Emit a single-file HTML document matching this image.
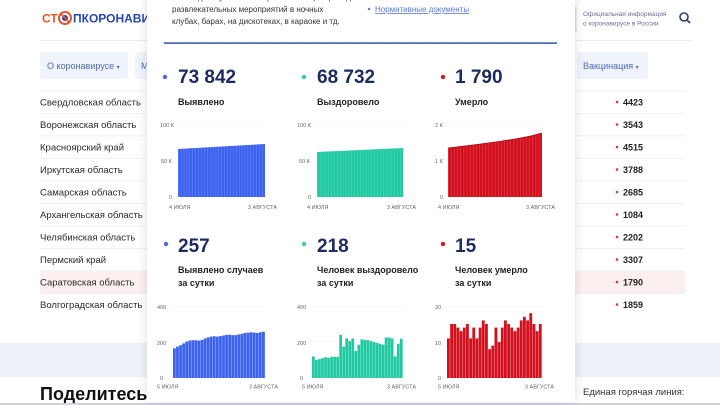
<!DOCTYPE html>
<html lang="ru">
<head>
<meta charset="utf-8">
<style>
  html,body{margin:0;padding:0;background:#fff;}
  body{width:720px;height:405px;overflow:hidden;position:relative;font-family:"Liberation Sans","Noto Sans CJK SC",sans-serif;}
  svg{position:absolute;left:0;top:0;}
  #modal{position:absolute;left:147px;top:-6px;width:428px;height:408px;background:#fff;box-shadow:0 0 10px rgba(0,0,0,0.13);z-index:1;}
  #bg{z-index:0;}
  #fg{z-index:2;}
  text{font-family:"Liberation Sans","Noto Sans CJK SC",sans-serif;}
</style>
</head>
<body>
<svg id="bg" width="720" height="405" viewBox="0 0 720 405" xmlns="http://www.w3.org/2000/svg">
  <rect x="0" y="0" width="720" height="405" fill="#ffffff"/>
  <!-- logo -->
  <text x="42" y="22.5" font-size="12" font-weight="bold" fill="#e4572e">СТ</text>
  <circle cx="65" cy="18" r="6" fill="#fff" stroke="#e4572e" stroke-width="2"/>
  <circle cx="65" cy="18" r="3" fill="#2747b0"/>
  <line x1="60.5" y1="13.5" x2="69.5" y2="22.5" stroke="#e4572e" stroke-width="1.6"/>
  <text x="73" y="22.5" font-size="12" font-weight="bold" fill="#2747b0">ПКОРОНАВИ</text>
  <!-- top right -->
  <rect x="575" y="7" width="1.5" height="25" fill="#dcdde2"/>
  <text x="583" y="16" font-size="6.5" fill="#6b7390">Официальная информация</text>
  <text x="583" y="25.5" font-size="6.5" fill="#6b7390">о коронавирусе в России</text>
  <circle cx="684" cy="17" r="4" fill="none" stroke="#2c3e6b" stroke-width="1.6"/>
  <line x1="687" y1="20" x2="690" y2="23" stroke="#2c3e6b" stroke-width="1.8"/>
  <!-- top separator -->
  <rect x="40" y="40" width="652" height="1" fill="#ececec"/>
  <!-- nav -->
  <rect x="40" y="52" width="88" height="27" rx="3" fill="#eef3fc"/>
  <text x="47" y="69" font-size="9" fill="#5069b5">О коронавирусе <tspan font-size="6">▾</tspan></text>
  <rect x="135" y="52" width="60" height="27" rx="3" fill="#eef3fc"/>
  <text x="141" y="69" font-size="9" fill="#5069b5">М</text>
  <rect x="577" y="52" width="71" height="27" rx="3" fill="#eef3fc"/>
  <text x="583" y="69" font-size="9" fill="#5069b5">Вакцинация <tspan font-size="6">▾</tspan></text>
  <!-- highlight row -->
  <rect x="40" y="271.5" width="645" height="22" fill="#fcefef"/>
  <!-- row separators -->
  <g fill="#ededed">
    <rect x="40" y="90.5" width="645" height="0.8"/>
    <rect x="40" y="113" width="645" height="0.8"/>
    <rect x="40" y="135.5" width="645" height="0.8"/>
    <rect x="40" y="158" width="645" height="0.8"/>
    <rect x="40" y="180.5" width="645" height="0.8"/>
    <rect x="40" y="203" width="645" height="0.8"/>
    <rect x="40" y="225.5" width="645" height="0.8"/>
    <rect x="40" y="248" width="645" height="0.8"/>
    <rect x="40" y="270.5" width="645" height="0.8"/>
    <rect x="40" y="293" width="645" height="0.8"/>
  </g>
  <g font-size="9.5" fill="#2a2a2a">
    <text x="40" y="105.3">Свердловская область</text>
    <text x="40" y="127.8">Воронежская область</text>
    <text x="40" y="150.3">Красноярский край</text>
    <text x="40" y="172.8">Иркутская область</text>
    <text x="40" y="195.3">Самарская область</text>
    <text x="40" y="217.8">Архангельская область</text>
    <text x="40" y="240.3">Челябинская область</text>
    <text x="40" y="262.8">Пермский край</text>
    <text x="40" y="285.3">Саратовская область</text>
    <text x="40" y="307.8">Волгоградская область</text>
  </g>
  <g fill="#d33a45">
    <circle cx="617" cy="102" r="1.3"/>
    <circle cx="617" cy="124.5" r="1.3"/>
    <circle cx="617" cy="147" r="1.3"/>
    <circle cx="617" cy="169.5" r="1.3"/>
    <circle cx="617" cy="192" r="1.3"/>
    <circle cx="617" cy="214.5" r="1.3"/>
    <circle cx="617" cy="237" r="1.3"/>
    <circle cx="617" cy="259.5" r="1.3"/>
    <circle cx="617" cy="282" r="1.3"/>
    <circle cx="617" cy="304.5" r="1.3"/>
  </g>
  <g font-size="9" font-weight="bold" fill="#222">
    <text x="623" y="105.3">4423</text>
    <text x="623" y="127.8">3543</text>
    <text x="623" y="150.3">4515</text>
    <text x="623" y="172.8">3788</text>
    <text x="623" y="195.3">2685</text>
    <text x="623" y="217.8">1084</text>
    <text x="623" y="240.3">2202</text>
    <text x="623" y="262.8">3307</text>
    <text x="623" y="285.3">1790</text>
    <text x="623" y="307.8">1859</text>
  </g>
  <!-- band -->
  <rect x="0" y="343" width="720" height="34" fill="#edf1f9"/>
  <text x="40" y="400" font-size="18" font-weight="bold" fill="#111">Поделитесь</text>
  <text x="583" y="395" font-size="9.5" fill="#333">Единая горячая линия:</text>
  <rect x="0" y="403" width="720" height="2" fill="#cfd3da"/>
</svg>

<div id="modal"></div>

<svg id="fg" width="720" height="405" viewBox="0 0 720 405" xmlns="http://www.w3.org/2000/svg">
  <defs>
    <pattern id="pb" patternUnits="userSpaceOnUse" x="178" y="0" width="2.9" height="405">
      <rect x="0" y="0" width="0.4" height="405" fill="#ffffff" fill-opacity="0.3"/>
    </pattern>
    <pattern id="pg" patternUnits="userSpaceOnUse" x="317" y="0" width="2.87" height="405">
      <rect x="0" y="0" width="0.4" height="405" fill="#ffffff" fill-opacity="0.3"/>
    </pattern>
    <pattern id="pr" patternUnits="userSpaceOnUse" x="448" y="0" width="3.13" height="405">
      <rect x="0" y="0" width="0.4" height="405" fill="#ffffff" fill-opacity="0.3"/>
    </pattern>
  </defs>

  <!-- top text -->
  <text x="172" y="0" font-size="8" fill="#333">необходимо учитывать ограничения при проведении</text>
  <text x="172" y="12" font-size="8" fill="#333">развлекательных мероприятий в ночных</text>
  <text x="172" y="24" font-size="8" fill="#333">клубах, барах, на дискотеках, в караоке и тд.</text>
  <circle cx="369" cy="9" r="1.2" fill="#5a78d0"/>
  <text x="375" y="12" font-size="8" fill="#5a78d0" text-decoration="underline">Нормативные документы</text>
  <rect x="164" y="42.3" width="393" height="1.6" fill="#3d5cb8"/>

  <!-- row 1 numbers -->
  <circle cx="165" cy="77" r="2.2" fill="#4d6bd6"/>
  <text x="178" y="83" font-size="19" font-weight="bold" fill="#1b2b5e">73 842</text>
  <circle cx="304" cy="77" r="2.2" fill="#3cc9a6"/>
  <text x="317" y="83" font-size="19" font-weight="bold" fill="#1b2b5e">68 732</text>
  <circle cx="443" cy="77" r="2.2" fill="#d01a28"/>
  <text x="455" y="83" font-size="19" font-weight="bold" fill="#1b2b5e">1 790</text>
  <g font-size="9" font-weight="bold" fill="#222">
    <text x="178" y="105">Выявлено</text>
    <text x="317" y="105">Выздоровело</text>
    <text x="455" y="105">Умерло</text>
  </g>

  <!-- row 1 charts -->
  <g stroke="#f0f0f0" stroke-width="0.6">
    <line x1="178" y1="125" x2="266" y2="125"/>
    <line x1="178" y1="161" x2="266" y2="161"/>
    <line x1="317" y1="125" x2="404" y2="125"/>
    <line x1="317" y1="161" x2="404" y2="161"/>
    <line x1="448" y1="125" x2="543" y2="125"/>
    <line x1="448" y1="161" x2="543" y2="161"/>
  </g>
  <polygon points="178,197 178,149 265,144 265,197" fill="#3c62ef"/>
  <polygon points="178,197 178,149 265,144 265,197" fill="url(#pb)"/>
  <polygon points="317,197 317,152 403,148 403,197" fill="#20c9a2"/>
  <polygon points="317,197 317,152 403,148 403,197" fill="url(#pg)"/>
  <polygon points="448,197 448,148 475,144.8 500,141.4 520,138.2 532,135.8 542,133 542,197" fill="#d3101d"/>
  <polygon points="448,197 448,148 475,144.8 500,141.4 520,138.2 532,135.8 542,133 542,197" fill="url(#pr)"/>
  <polyline points="448,148 475,144.8 500,141.4 520,138.2 532,135.8 542,133" fill="none" stroke="#a80a14" stroke-width="0.8"/>

  <g font-size="5.5" fill="#666">
    <text x="160" y="127">100 К</text>
    <text x="161" y="163">50 К</text>
    <text x="169" y="199">0</text>
    <text x="169" y="209">4 ИЮЛЯ</text>
    <text x="277" y="209" text-anchor="end">3 АВГУСТА</text>

    <text x="297" y="127">100 К</text>
    <text x="299" y="163">50 К</text>
    <text x="308" y="199">0</text>
    <text x="307" y="209">4 ИЮЛЯ</text>
    <text x="416" y="209" text-anchor="end">3 АВГУСТА</text>

    <text x="435" y="127">2 К</text>
    <text x="435" y="163">1 К</text>
    <text x="440" y="199">0</text>
    <text x="438" y="209">4 ИЮЛЯ</text>
    <text x="555" y="209" text-anchor="end">3 АВГУСТА</text>
  </g>

  <!-- row 2 numbers -->
  <circle cx="166" cy="244" r="2.2" fill="#4d6bd6"/>
  <text x="178" y="252" font-size="19" font-weight="bold" fill="#1b2b5e">257</text>
  <circle cx="304" cy="244" r="2.2" fill="#3cc9a6"/>
  <text x="317" y="252" font-size="19" font-weight="bold" fill="#1b2b5e">218</text>
  <circle cx="443" cy="244" r="2.2" fill="#d01a28"/>
  <text x="455" y="252" font-size="19" font-weight="bold" fill="#1b2b5e">15</text>
  <g font-size="9" font-weight="bold" fill="#222">
    <text x="178" y="273">Выявлено случаев</text>
    <text x="178" y="286">за сутки</text>
    <text x="317" y="273">Человек выздоровело</text>
    <text x="317" y="286">за сутки</text>
    <text x="455" y="273">Человек умерло</text>
    <text x="455" y="286">за сутки</text>
  </g>

  <!-- row 2 grid -->
  <g stroke="#f0f0f0" stroke-width="0.6">
    <line x1="173" y1="306" x2="266" y2="306"/>
    <line x1="173" y1="342" x2="266" y2="342"/>
    <line x1="312" y1="306" x2="404" y2="306"/>
    <line x1="312" y1="342" x2="404" y2="342"/>
    <line x1="447" y1="306" x2="543" y2="306"/>
    <line x1="447" y1="342" x2="543" y2="342"/>
  </g>

  <!-- blue daily bars -->
  <g fill="#3c62ef">
    <rect x="173.00" y="348.30" width="2.8" height="29.70"/>
    <rect x="176.07" y="346.50" width="2.8" height="31.50"/>
    <rect x="179.14" y="345.24" width="2.8" height="32.76"/>
    <rect x="182.21" y="343.44" width="2.8" height="34.56"/>
    <rect x="185.28" y="341.46" width="2.8" height="36.54"/>
    <rect x="188.35" y="340.56" width="2.8" height="37.44"/>
    <rect x="191.42" y="340.20" width="2.8" height="37.80"/>
    <rect x="194.49" y="340.20" width="2.8" height="37.80"/>
    <rect x="197.56" y="340.56" width="2.8" height="37.44"/>
    <rect x="200.63" y="339.84" width="2.8" height="38.16"/>
    <rect x="203.70" y="338.40" width="2.8" height="39.60"/>
    <rect x="206.77" y="337.32" width="2.8" height="40.68"/>
    <rect x="209.84" y="336.60" width="2.8" height="41.40"/>
    <rect x="212.91" y="336.24" width="2.8" height="41.76"/>
    <rect x="215.98" y="336.60" width="2.8" height="41.40"/>
    <rect x="219.05" y="336.06" width="2.8" height="41.94"/>
    <rect x="222.12" y="335.52" width="2.8" height="42.48"/>
    <rect x="225.19" y="334.80" width="2.8" height="43.20"/>
    <rect x="228.26" y="334.80" width="2.8" height="43.20"/>
    <rect x="231.33" y="335.16" width="2.8" height="42.84"/>
    <rect x="234.40" y="335.16" width="2.8" height="42.84"/>
    <rect x="237.47" y="334.44" width="2.8" height="43.56"/>
    <rect x="240.54" y="333.72" width="2.8" height="44.28"/>
    <rect x="243.61" y="333.00" width="2.8" height="45.00"/>
    <rect x="246.68" y="332.64" width="2.8" height="45.36"/>
    <rect x="249.75" y="332.28" width="2.8" height="45.72"/>
    <rect x="252.82" y="332.64" width="2.8" height="45.36"/>
    <rect x="255.89" y="333.00" width="2.8" height="45.00"/>
    <rect x="258.96" y="332.28" width="2.8" height="45.72"/>
    <rect x="262.03" y="331.74" width="2.8" height="46.26"/>
  </g>

  <!-- green daily bars -->
  <g fill="#20c9a2">
    <rect x="312.00" y="356.40" width="2.75" height="21.60"/>
    <rect x="315.03" y="360.00" width="2.75" height="18.00"/>
    <rect x="318.06" y="359.10" width="2.75" height="18.90"/>
    <rect x="321.09" y="358.20" width="2.75" height="19.80"/>
    <rect x="324.12" y="357.30" width="2.75" height="20.70"/>
    <rect x="327.15" y="357.84" width="2.75" height="20.16"/>
    <rect x="330.18" y="356.76" width="2.75" height="21.24"/>
    <rect x="333.21" y="356.76" width="2.75" height="21.24"/>
    <rect x="336.24" y="356.76" width="2.75" height="21.24"/>
    <rect x="339.27" y="334.80" width="2.75" height="43.20"/>
    <rect x="342.30" y="346.50" width="2.75" height="31.50"/>
    <rect x="345.33" y="338.40" width="2.75" height="39.60"/>
    <rect x="348.36" y="341.10" width="2.75" height="36.90"/>
    <rect x="351.39" y="338.40" width="2.75" height="39.60"/>
    <rect x="354.42" y="351.00" width="2.75" height="27.00"/>
    <rect x="357.45" y="344.70" width="2.75" height="33.30"/>
    <rect x="360.48" y="339.30" width="2.75" height="38.70"/>
    <rect x="363.51" y="339.84" width="2.75" height="38.16"/>
    <rect x="366.54" y="340.20" width="2.75" height="37.80"/>
    <rect x="369.57" y="341.10" width="2.75" height="36.90"/>
    <rect x="372.60" y="342.00" width="2.75" height="36.00"/>
    <rect x="375.63" y="342.90" width="2.75" height="35.10"/>
    <rect x="378.66" y="343.80" width="2.75" height="34.20"/>
    <rect x="381.69" y="344.70" width="2.75" height="33.30"/>
    <rect x="384.72" y="337.50" width="2.75" height="40.50"/>
    <rect x="387.75" y="337.50" width="2.75" height="40.50"/>
    <rect x="390.78" y="338.40" width="2.75" height="39.60"/>
    <rect x="393.81" y="356.40" width="2.75" height="21.60"/>
    <rect x="396.84" y="343.80" width="2.75" height="34.20"/>
    <rect x="399.87" y="338.76" width="2.75" height="39.24"/>
  </g>

  <!-- red daily bars -->
  <g fill="#d3101d">
    <rect x="447.00" y="338.4" width="2.85" height="39.6"/>
    <rect x="450.17" y="324.0" width="2.85" height="54.0"/>
    <rect x="453.33" y="324.0" width="2.85" height="54.0"/>
    <rect x="456.50" y="327.6" width="2.85" height="50.4"/>
    <rect x="459.67" y="331.2" width="2.85" height="46.8"/>
    <rect x="462.83" y="327.6" width="2.85" height="50.4"/>
    <rect x="466.00" y="324.0" width="2.85" height="54.0"/>
    <rect x="469.17" y="338.4" width="2.85" height="39.6"/>
    <rect x="472.33" y="327.6" width="2.85" height="50.4"/>
    <rect x="475.50" y="338.4" width="2.85" height="39.6"/>
    <rect x="478.67" y="327.6" width="2.85" height="50.4"/>
    <rect x="481.83" y="320.4" width="2.85" height="57.6"/>
    <rect x="485.00" y="324.0" width="2.85" height="54.0"/>
    <rect x="488.17" y="349.2" width="2.85" height="28.8"/>
    <rect x="491.33" y="345.6" width="2.85" height="32.4"/>
    <rect x="494.50" y="327.6" width="2.85" height="50.4"/>
    <rect x="497.67" y="342.0" width="2.85" height="36.0"/>
    <rect x="500.83" y="327.6" width="2.85" height="50.4"/>
    <rect x="504.00" y="320.4" width="2.85" height="57.6"/>
    <rect x="507.17" y="324.0" width="2.85" height="54.0"/>
    <rect x="510.33" y="327.6" width="2.85" height="50.4"/>
    <rect x="513.50" y="331.2" width="2.85" height="46.8"/>
    <rect x="516.67" y="327.6" width="2.85" height="50.4"/>
    <rect x="519.83" y="320.4" width="2.85" height="57.6"/>
    <rect x="523.00" y="316.8" width="2.85" height="61.2"/>
    <rect x="526.17" y="320.4" width="2.85" height="57.6"/>
    <rect x="529.33" y="313.2" width="2.85" height="64.8"/>
    <rect x="532.50" y="324.0" width="2.85" height="54.0"/>
    <rect x="535.67" y="331.2" width="2.85" height="46.8"/>
    <rect x="538.83" y="324.0" width="2.85" height="54.0"/>
  </g>

  <g font-size="5.5" fill="#666">
    <text x="157" y="309">400</text>
    <text x="157" y="345">200</text>
    <text x="160" y="380">0</text>
    <text x="157" y="388.5">5 ИЮЛЯ</text>
    <text x="278" y="388.5" text-anchor="end">3 АВГУСТА</text>

    <text x="297" y="309">400</text>
    <text x="297" y="345">200</text>
    <text x="300" y="380">0</text>
    <text x="302" y="388.5">5 ИЮЛЯ</text>
    <text x="416" y="388.5" text-anchor="end">3 АВГУСТА</text>

    <text x="435" y="309">20</text>
    <text x="435" y="345">10</text>
    <text x="438" y="380">0</text>
    <text x="438" y="388.5">5 ИЮЛЯ</text>
    <text x="554" y="388.5" text-anchor="end">3 АВГУСТА</text>
  </g>
</svg>
</body>
</html>
